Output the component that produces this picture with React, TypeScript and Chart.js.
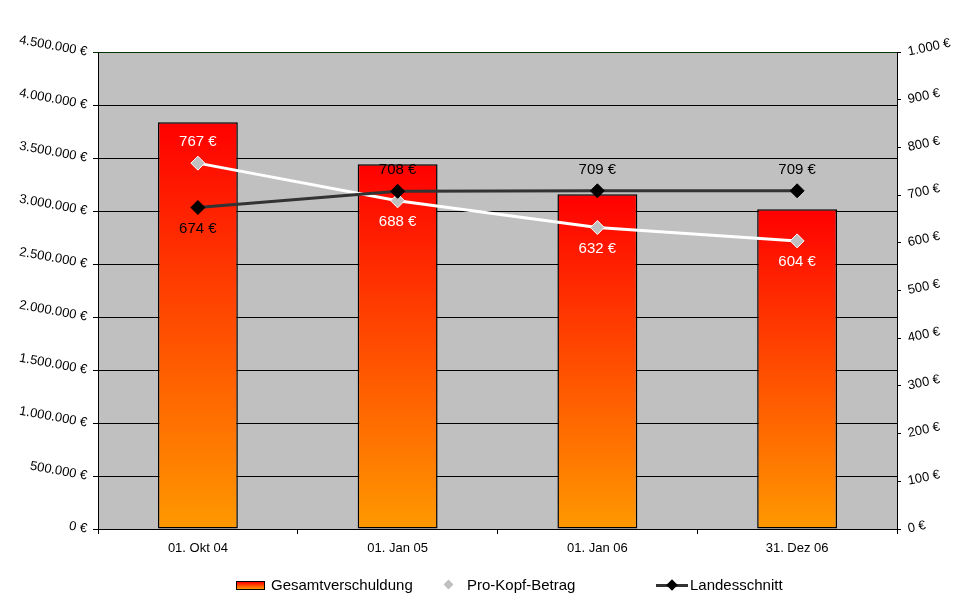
import { useRef, useEffect } from "react";
import { Chart, registerables } from "chart.js";

Chart.register(...registerables);

const categories = ["01. Okt 04", "01. Jan 05", "01. Jan 06", "31. Dez 06"];
const gesamtverschuldung = [3837000, 3440000, 3158000, 3016000];
const proKopfBetrag = [767, 688, 632, 604];
const landesschnitt = [674, 708, 709, 709];

// where the value labels sit relative to their point
const proKopfLabelSide = [-1, 1, 1, 1];
const landesLabelSide = [1, -1, -1, -1];

const FONT = "'Liberation Sans', Arial, sans-serif";

const formatEuro = (v: number) =>
  String(Math.round(v)).replace(/\B(?=(\d{3})+(?!\d))/g, ".") + " €";

const valueLabels = {
  id: "valueLabels",
  afterDatasetsDraw(chart: Chart) {
    const ctx = chart.ctx;
    ctx.save();
    ctx.font = `15px ${FONT}`;
    ctx.textAlign = "center";
    ctx.textBaseline = "middle";
    const sets: [number, number[], number[], string][] = [
      [1, proKopfBetrag, proKopfLabelSide, "#FFFFFF"],
      [2, landesschnitt, landesLabelSide, "#000000"],
    ];
    sets.forEach(([idx, values, sides, color]) => {
      const meta = chart.getDatasetMeta(idx);
      ctx.fillStyle = color;
      meta.data.forEach((el: any, i: number) => {
        ctx.fillText(`${values[i]} €`, el.x, el.y + sides[i] * 21);
      });
    });
    ctx.restore();
  },
};

const App = () => {
  const chartRef = useRef<HTMLCanvasElement | null>(null);
  const chartInstance = useRef<Chart | null>(null);

  useEffect(() => {
    document.body.style.margin = "0";
    if (!chartRef.current) return;
    if (chartInstance.current) chartInstance.current.destroy();
    const ctx = chartRef.current.getContext("2d");
    if (!ctx) return;

    Chart.defaults.font.family = FONT;
    Chart.defaults.color = "#000000";

    chartInstance.current = new Chart(ctx, {
      type: "bar",
      data: {
        labels: categories,
        datasets: [
          {
            type: "bar",
            label: "Gesamtverschuldung",
            data: gesamtverschuldung,
            yAxisID: "y",
            order: 3,
            backgroundColor: (c: any) => {
              const chart = c.chart;
              if (!chart.chartArea || c.type !== "data") return "#FF6600";
              const y = chart.scales.y;
              const top = y.getPixelForValue(c.parsed.y);
              const bottom = y.getPixelForValue(0);
              const g = chart.ctx.createLinearGradient(0, top, 0, bottom);
              g.addColorStop(0, "#FF0000");
              g.addColorStop(1, "#FF9900");
              return g;
            },
            borderColor: "#000000",
            borderWidth: 1.5,
            borderSkipped: false,
            barPercentage: 0.4,
            categoryPercentage: 1,
          },
          {
            type: "line",
            label: "Pro-Kopf-Betrag",
            data: proKopfBetrag,
            yAxisID: "y1",
            order: 2,
            borderColor: "#FFFFFF",
            borderWidth: 3,
            pointStyle: "rectRot",
            pointRadius: 7,
            pointBackgroundColor: "#C0C0C0",
            pointBorderColor: "#FFFFFF",
            pointBorderWidth: 1,
            tension: 0,
          },
          {
            type: "line",
            label: "Landesschnitt",
            data: landesschnitt,
            yAxisID: "y1",
            order: 1,
            borderColor: "#333333",
            borderWidth: 3,
            pointStyle: "rectRot",
            pointRadius: 7,
            pointBackgroundColor: "#000000",
            pointBorderColor: "#000000",
            pointBorderWidth: 1,
            tension: 0,
          },
        ],
      },
      options: {
        responsive: true,
        maintainAspectRatio: false,
        animation: false,
        layout: { padding: { top: 52, left: 0, right: 0, bottom: 0 } },
        plugins: {
          legend: { display: false },
          tooltip: { enabled: false },
        },
        scales: {
          x: {
            offset: true,
            grid: {
              offset: true,
              drawOnChartArea: false,
              drawTicks: true,
              tickLength: 5,
              color: "#000000",
            },
            border: { color: "#000000", width: 1 },
            ticks: { font: { size: 13 }, padding: 7, maxRotation: 0 },
            afterFit: (s: any) => {
              s.height = 75;
            },
          },
          y: {
            position: "left",
            min: 0,
            max: 4500000,
            ticks: {
              stepSize: 500000,
              font: { size: 13 },
              padding: 6,
              minRotation: -10,
              maxRotation: -10,
              callback: (v: any) => formatEuro(Number(v)),
            },
            grid: {
              color: (c: any) => (c.tick && c.tick.value === 4500000 ? "#003300" : "#000000"),
              lineWidth: 1,
              tickLength: 5,
            },
            border: { color: "#000000", width: 1 },
            afterFit: (s: any) => {
              s.width = 98;
            },
          },
          y1: {
            position: "right",
            min: 0,
            max: 1000,
            ticks: {
              stepSize: 100,
              font: { size: 13 },
              padding: 7,
              minRotation: 12,
              maxRotation: 12,
              callback: (v: any) => formatEuro(Number(v)),
            },
            grid: { drawOnChartArea: false, color: "#000000", tickLength: 4 },
            border: { color: "#000000", width: 1 },
            afterFit: (s: any) => {
              s.width = 73;
            },
          },
        },
      },
      plugins: [
        {
          id: "plotBg",
          beforeDraw(chart: Chart) {
            const { ctx: c, chartArea: a } = chart;
            c.save();
            c.fillStyle = "#C0C0C0";
            c.fillRect(a.left, a.top, a.right - a.left, a.bottom - a.top);
            c.restore();
          },
        },
        valueLabels,
      ],
    } as any);

    return () => {
      if (chartInstance.current) {
        chartInstance.current.destroy();
        chartInstance.current = null;
      }
    };
  }, []);

  const legendText: React.CSSProperties = {
    fontFamily: FONT,
    fontSize: 15,
    color: "#000",
    lineHeight: "18px",
    whiteSpace: "nowrap",
  };

  return (
    <div style={{ position: "relative", width: 970, height: 604, background: "#FFFFFF" }}>
      <canvas ref={chartRef} />
      <div style={{ position: "absolute", left: 236, top: 576, display: "flex", alignItems: "center" }}>
        <span
          style={{
            width: 29,
            height: 9,
            boxSizing: "border-box",
            border: "1px solid #000",
            background: "linear-gradient(#FF0000, #FF9900)",
            marginRight: 6,
          }}
        />
        <span style={legendText}>Gesamtverschuldung</span>
      </div>
      <div style={{ position: "absolute", left: 444, top: 576, display: "flex", alignItems: "center" }}>
        <span style={{ width: 10, height: 18, position: "relative", marginRight: 13 }}>
          <span
            style={{
              position: "absolute",
              left: 1,
              top: 5,
              width: 7,
              height: 7,
              background: "#C0C0C0",
              transform: "rotate(45deg)",
            }}
          />
        </span>
        <span style={legendText}>Pro-Kopf-Betrag</span>
      </div>
      <div style={{ position: "absolute", left: 656, top: 576, display: "flex", alignItems: "center" }}>
        <span style={{ width: 32, height: 18, position: "relative", marginRight: 2 }}>
          <span style={{ position: "absolute", left: 0, top: 8, width: 32, height: 3, background: "#333333" }} />
          <span
            style={{
              position: "absolute",
              left: 12,
              top: 5,
              width: 8,
              height: 8,
              background: "#000000",
              transform: "rotate(45deg)",
            }}
          />
        </span>
        <span style={legendText}>Landesschnitt</span>
      </div>
    </div>
  );
};

export default App;
